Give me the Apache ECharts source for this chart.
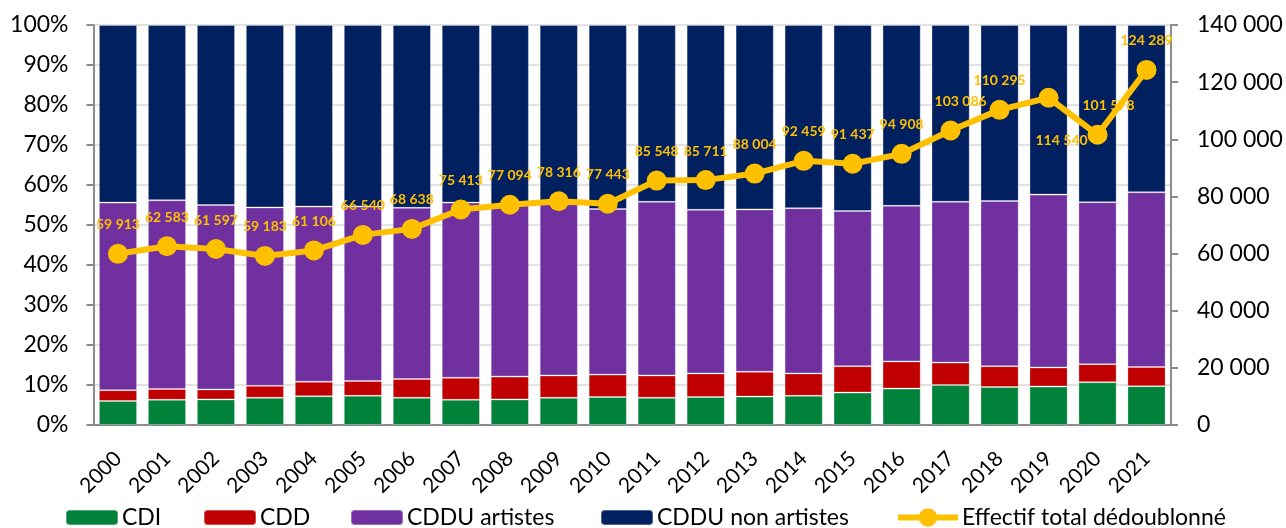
<!DOCTYPE html>
<html>
<head>
<meta charset="utf-8">
<script src="https://cdn.jsdelivr.net/npm/echarts@6/dist/echarts.min.js"></script>
<style>
  html, body { margin: 0; padding: 0; background: #ffffff; }
  #chart { width: 1286px; height: 528px; }
</style>
</head>
<body>
<div id="chart"></div>
<script>
// Years on the category axis
const years = ['2000','2001','2002','2003','2004','2005','2006','2007','2008','2009','2010',
               '2011','2012','2013','2014','2015','2016','2017','2018','2019','2020','2021'];

// Share of each contract type (%), stacked to 100
const cdi = [6.0, 6.3, 6.4, 6.8, 7.2, 7.3, 6.8, 6.3, 6.4, 6.8, 7.0,
             6.8, 7.0, 7.1, 7.3, 8.1, 9.1, 10.0, 9.5, 9.6, 10.7, 9.7];
const cdd = [2.7, 2.7, 2.5, 3.0, 3.6, 3.7, 4.7, 5.5, 5.7, 5.6, 5.6,
             5.6, 5.9, 6.2, 5.6, 6.6, 6.8, 5.6, 5.2, 4.8, 4.5, 4.8];
const cdduArtistes = [46.9, 47.2, 46.1, 44.6, 43.8, 43.6, 42.8, 43.8, 42.9, 42.8, 41.4,
                      43.4, 40.9, 40.6, 41.3, 38.8, 38.9, 40.2, 41.3, 43.2, 40.5, 43.7];
const cdduNonArtistes = [44.4, 43.8, 45.0, 45.6, 45.4, 45.4, 45.7, 44.4, 45.0, 44.8, 46.0,
                         44.2, 46.2, 46.1, 45.8, 46.5, 45.2, 44.2, 44.0, 42.4, 44.3, 41.8];

// Total headcount (right axis)
const effectif = [59913, 62583, 61597, 59183, 61106, 66540, 68638, 75413, 77094, 78316, 77443,
                  85548, 85711, 88004, 92459, 91437, 94908, 103086, 110295, 114540, 101578, 124289];

// Tick settings
const pctMax = 100, pctStep = 10;
const countMax = 140000, countStep = 20000;

const FONT = 'Lato, "Liberation Sans", sans-serif';
const GOLD = '#FFC000';

function spaced(v) {
  return String(v).replace(/\B(?=(\d{3})+(?!\d))/g, ' ');
}

// A few labels are nudged away from the line so they stay readable
const labelOffsets = { '2017': [10, 0], '2019': [13, 72], '2020': [11, 0] };
const lineData = effectif.map((v, i) => {
  const off = labelOffsets[years[i]];
  return off ? { value: v, label: { offset: off } } : v;
});

const barBorder = { borderColor: 'rgba(255,255,255,0.3)', borderWidth: 1 };

function barSeries(name, data, color) {
  return {
    name, type: 'bar', stack: 'share', data,
    barCategoryGap: '22%',
    itemStyle: Object.assign({ color }, barBorder),
    emphasis: { disabled: true }
  };
}

function legendAt(name, left, extra) {
  return Object.assign({
    data: [name], left, top: 506, padding: 0, itemWidth: 52, itemHeight: 15, itemGap: 0,
    selectedMode: false,
    textStyle: { fontFamily: FONT, fontSize: 23, color: '#000', padding: [0, 0, 0, -1] }
  }, extra || {});
}

const chart = echarts.init(document.getElementById('chart'), null, { renderer: 'canvas' });
chart.setOption({
  animation: false,
  backgroundColor: '#ffffff',
  grid: { left: 93.5, right: 115, top: 25, bottom: 103 },
  legend: [
    legendAt('CDI', 65),
    legendAt('CDD', 203),
    legendAt('CDDU artistes', 350),
    legendAt('CDDU non artistes', 600),
    legendAt('Effectif total dédoublonné', 895, {
      itemWidth: 60, itemHeight: 23,
      lineStyle: { width: 6, color: GOLD },
      itemStyle: { color: GOLD }
    })
  ],
  xAxis: {
    type: 'category', data: years,
    axisLine: { lineStyle: { color: '#8c8c8c', width: 2 } },
    axisTick: { length: 7, lineStyle: { color: '#8c8c8c', width: 2 } },
    axisLabel: {
      interval: 0, rotate: 45, margin: 30, align: 'right', verticalAlign: 'middle',
      fontFamily: FONT, fontSize: 21, color: '#000'
    }
  },
  yAxis: [
    {
      type: 'value', min: 0, max: pctMax, interval: pctStep,
      axisLine: { show: true, lineStyle: { color: '#8c8c8c', width: 2 } },
      axisTick: { show: true, length: 7, lineStyle: { color: '#8c8c8c', width: 2 } },
      axisLabel: { margin: 25, fontFamily: FONT, fontSize: 23, color: '#000', formatter: '{value}%' },
      splitLine: { lineStyle: { color: '#d9d9d9', width: 1.5 } }
    },
    {
      type: 'value', min: 0, max: countMax, interval: countStep,
      axisLine: { show: true, lineStyle: { color: '#8c8c8c', width: 2 } },
      axisTick: { show: true, length: 7, lineStyle: { color: '#8c8c8c', width: 2 } },
      axisLabel: { margin: 26, fontFamily: FONT, fontSize: 23, color: '#000', formatter: spaced },
      splitLine: { show: false }
    }
  ],
  series: [
    barSeries('CDI', cdi, '#00823B'),
    barSeries('CDD', cdd, '#C00000'),
    barSeries('CDDU artistes', cdduArtistes, '#7030A0'),
    barSeries('CDDU non artistes', cdduNonArtistes, '#002060'),
    {
      name: 'Effectif total dédoublonné', type: 'line', yAxisIndex: 1, z: 5,
      data: lineData,
      symbol: 'circle', symbolSize: 20,
      lineStyle: { color: GOLD, width: 6 },
      itemStyle: { color: GOLD },
      label: {
        show: true, position: 'top', distance: 12,
        fontFamily: FONT, fontSize: 14, fontWeight: 'bold', color: GOLD,
        formatter: p => spaced(p.value)
      },
      emphasis: { disabled: true }
    }
  ]
});
</script>
</body>
</html>
